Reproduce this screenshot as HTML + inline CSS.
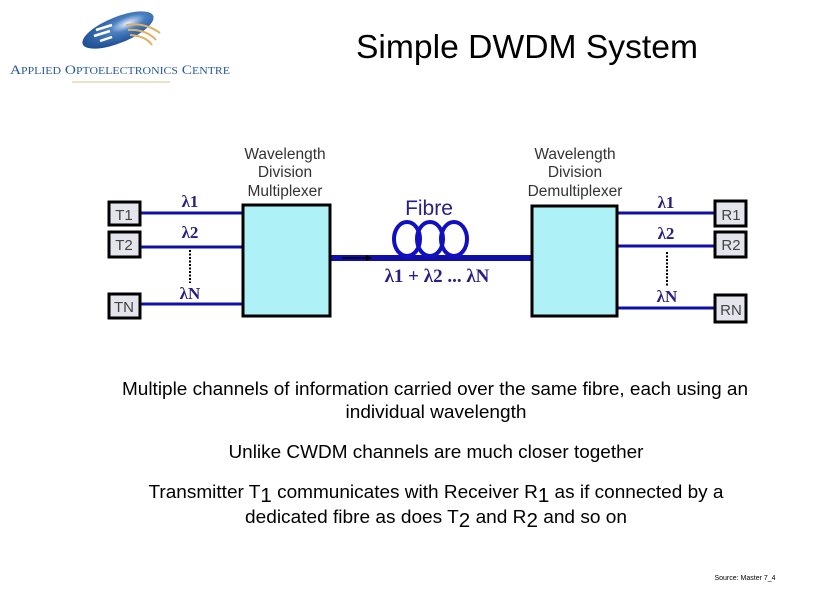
<!DOCTYPE html>
<html><head><meta charset="utf-8"><style>
html,body{margin:0;padding:0;background:#fff;}
svg{display:block;font-family:"Liberation Sans",sans-serif;}
</style></head><body>
<svg width="839" height="592" viewBox="0 0 839 592" xmlns="http://www.w3.org/2000/svg">
<defs>
<radialGradient id="g" cx="0.65" cy="0.4" r="0.7"><stop offset="0" stop-color="#e8f0ff"/><stop offset="0.35" stop-color="#4a7fc0"/><stop offset="1" stop-color="#1a4a90"/></radialGradient>
</defs>
<ellipse cx="118" cy="30" rx="38" ry="13" transform="rotate(-22 118 30)" fill="url(#g)"/>
<path d="M96 30 L112 25 M94 36 L110 31 M100 41 L112 37" stroke="#fff" stroke-width="2.5"/>
<path d="M126 25 Q145 22 160 33 M128 30 Q146 29 156 40 M130 35 Q146 36 152 45" stroke="#e0b060" stroke-width="2" fill="none"/>
<text x="10" y="74" font-family="Liberation Serif,serif" font-size="13" fill="#2a5a9a" textLength="220" lengthAdjust="spacingAndGlyphs">A<tspan font-size="10">PPLIED</tspan> O<tspan font-size="10">PTOELECTRONICS</tspan> C<tspan font-size="10">ENTRE</tspan></text>
<line x1="72" y1="82" x2="170" y2="82" stroke="#e8d8b0" stroke-width="1.5"/>
<text x="527" y="58" font-size="33" text-anchor="middle" fill="#000" textLength="342" lengthAdjust="spacingAndGlyphs">Simple DWDM System</text>
<g stroke="#1010a8" stroke-width="3">
<line x1="140" y1="213" x2="243" y2="213"/>
<line x1="140" y1="247" x2="243" y2="247"/>
<line x1="140" y1="304" x2="243" y2="304"/>
<line x1="617" y1="213" x2="715" y2="213"/>
<line x1="617" y1="246" x2="715" y2="246"/>
<line x1="617" y1="308" x2="715" y2="308"/>
</g>
<line x1="330" y1="258" x2="532" y2="258" stroke="#1010a8" stroke-width="6"/>
<line x1="342" y1="258" x2="368" y2="258" stroke="#000" stroke-width="1.5"/>
<path d="M366 255 L372 258 L366 261Z" fill="#000"/>
<g fill="none" stroke="#1010c0" stroke-width="4">
<ellipse cx="407" cy="239" rx="13" ry="17"/>
<ellipse cx="430" cy="239" rx="13" ry="17"/>
<ellipse cx="454" cy="239" rx="13" ry="17"/>
</g>
<line x1="190" y1="250" x2="190" y2="283" stroke="#000" stroke-width="2" stroke-dasharray="2,1.5"/>
<line x1="667" y1="252" x2="667" y2="286" stroke="#000" stroke-width="2" stroke-dasharray="2,1.5"/>
<g stroke="#000" stroke-width="3">
<rect x="243" y="205" width="87" height="111" fill="#aef2f8"/>
<rect x="532" y="206" width="85" height="110" fill="#aef2f8"/>
<g fill="#e4e4ec">
<rect x="109" y="202" width="31" height="23"/>
<rect x="109" y="232" width="31" height="25"/>
<rect x="109" y="294" width="31" height="24"/>
<rect x="715" y="201" width="31" height="25"/>
<rect x="715" y="232" width="31" height="25"/>
<rect x="715" y="295" width="31" height="27"/>
</g>
</g>
<g font-size="15" fill="#444">
<text x="124" y="220" text-anchor="middle">T1</text>
<text x="124" y="250" text-anchor="middle">T2</text>
<text x="124" y="312" text-anchor="middle">TN</text>
<text x="731" y="220" text-anchor="middle">R1</text>
<text x="731" y="250" text-anchor="middle">R2</text>
<text x="731" y="315" text-anchor="middle">RN</text>
</g>
<g font-size="15.5" fill="#333" text-anchor="middle">
<text x="285" y="159">Wavelength</text><text x="285" y="177">Division</text><text x="285" y="196">Multiplexer</text>
<text x="575" y="159">Wavelength</text><text x="575" y="177">Division</text><text x="575" y="196">Demultiplexer</text>
</g>
<g font-family="Liberation Serif,serif" font-size="17" fill="#2a2080" font-weight="bold" text-anchor="middle">
<text x="190" y="207">λ1</text><text x="190" y="238">λ2</text><text x="190" y="299">λN</text>
<text x="666" y="208">λ1</text><text x="666" y="239">λ2</text><text x="667" y="302">λN</text>
<text x="437" y="282" font-size="19">λ1 + λ2 ... λN</text>
</g>
<text x="429" y="215" font-size="21" fill="#2a2080" text-anchor="middle">Fibre</text>
<g font-size="18.5" fill="#000" text-anchor="middle">
<text x="435" y="395" textLength="626" lengthAdjust="spacingAndGlyphs">Multiple channels of information carried over the same fibre, each using an</text>
<text x="436" y="418" textLength="181" lengthAdjust="spacingAndGlyphs">individual wavelength</text>
<text x="436" y="458" textLength="415" lengthAdjust="spacingAndGlyphs">Unlike CWDM channels are much closer together</text>
<text x="436" y="498" textLength="575" lengthAdjust="spacingAndGlyphs">Transmitter T<tspan font-size="20" dy="4">1</tspan><tspan dy="-4"> communicates with Receiver R</tspan><tspan font-size="20" dy="4">1</tspan><tspan dy="-4"> as if connected by a</tspan></text>
<text x="436" y="523" textLength="382" lengthAdjust="spacingAndGlyphs">dedicated fibre as does T<tspan font-size="20" dy="4">2</tspan><tspan dy="-4"> and R</tspan><tspan font-size="20" dy="4">2</tspan><tspan dy="-4"> and so on</tspan></text>
</g>
<text x="745" y="580" font-size="7" fill="#000" text-anchor="middle">Source: Master 7_4</text>
</svg>
</body></html>
